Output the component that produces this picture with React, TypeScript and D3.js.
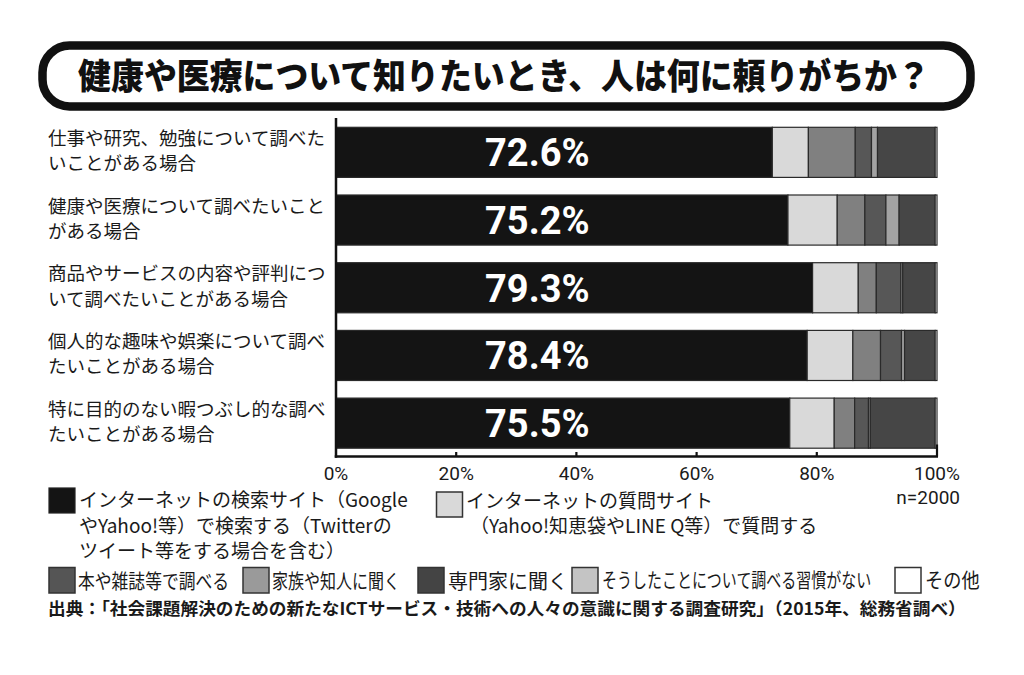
import React from "react";
import * as d3 from "d3";

const categoryLines: string[][] = [
  ["仕事や研究、勉強について調べた", "いことがある場合"],
  ["健康や医療について調べたいこと", "がある場合"],
  ["商品やサービスの内容や評判につ", "いて調べたいことがある場合"],
  ["個人的な趣味や娯楽について調べ", "たいことがある場合"],
  ["特に目的のない暇つぶし的な調べ", "たいことがある場合"],
];
const categories = categoryLines.map((l) => l.join(""));

const seriesKeys = ["search", "qaSite", "books", "family", "expert", "noHabit", "other"];
const searchValues = [72.6, 75.2, 79.3, 78.4, 75.5];
const qaSiteValues = [6.0, 8.2, 7.6, 7.6, 7.4];
const bookValues = [7.8, 4.6, 3.0, 4.6, 3.4];
const familyValues = [2.7, 3.5, 4.1, 3.5, 2.3];
const expertValues = [1.0, 2.2, 0.3, 0.5, 0.3];
const noHabitValues = [9.6, 6.0, 5.4, 5.1, 10.8];
const otherValues = [0.3, 0.3, 0.3, 0.3, 0.3];
const valueLabels = ["72.6%", "75.2%", "79.3%", "78.4%", "75.5%"];

const barColors = ["#141414", "#d9d9d9", "#808080", "#575757", "#a3a3a3", "#464646", "#ffffff"];

const xTicks = [0, 20, 40, 60, 80, 100];
const xTickLabels = ["0%", "20%", "40%", "60%", "80%", "100%"];

const title = "健康や医療について知りたいとき、人は何に頼りがちか？";
const sampleNote = "n=2000";
const sourceNote =
  "出典：「社会課題解決のための新たなICTサービス・技術への人々の意識に関する調査研究」（2015年、総務省調べ）";

const legendRow1 = [
  {
    color: "#141414",
    lines: ["インターネットの検索サイト（Google", "やYahoo!等）で検索する（Twitterの", "ツイート等をする場合を含む）"],
  },
  {
    color: "#d9d9d9",
    lines: ["インターネットの質問サイト", "（Yahoo!知恵袋やLINE Q等）で質問する"],
  },
];
const legendRow2Labels = ["本や雑誌等で調べる", "家族や知人に聞く", "専門家に聞く", "そうしたことについて調べる習慣がない", "その他"];
const legendRow2Colors = ["#555555", "#9a9a9a", "#444444", "#c4c4c4", "#ffffff"];

const FONT = "'Noto Sans CJK JP', 'Noto Sans', sans-serif";

export default function App() {
  const W = 1024;
  const H = 675;
  const x = d3.scaleLinear().domain([0, 100]).range([336, 937]);
  const y = d3
    .scaleBand<string>()
    .domain(categories)
    .range([118.5, 457])
    .paddingInner(0.26)
    .paddingOuter(0.13);

  const table = categories.map((c, i) => ({
    category: c,
    search: searchValues[i],
    qaSite: qaSiteValues[i],
    books: bookValues[i],
    family: familyValues[i],
    expert: expertValues[i],
    noHabit: noHabitValues[i],
    other: otherValues[i],
  }));
  const stacked = d3.stack<any>().keys(seriesKeys)(table);
  const axisY = 456.5;

  // legend row 2 positions (swatch x, text x, horizontal squeeze)
  const row2 = [
    { sx: 49, tx: 78, sc: 0.84 },
    { sx: 243, tx: 272, sc: 0.8 },
    { sx: 418, tx: 448, sc: 1.0 },
    { sx: 572, tx: 602, sc: 0.75 },
    { sx: 895, tx: 925, sc: 0.91 },
  ];

  return (
    <svg
      width={W}
      height={H}
      viewBox={`0 0 ${W} ${H}`}
      style={{ position: "absolute", left: 0, top: 0, background: "#fff" }}
      fontFamily={FONT}
    >
      <rect x={0} y={0} width={W} height={H} fill="#fff" />
      {/* Title box */}
      <rect x={42.5} y={45.5} width={928} height={61} rx={27} ry={27} fill="#fff" stroke="#111" strokeWidth={8.5} />
      <text
        transform="translate(504,74.5) scale(0.94,1)"
        textAnchor="middle"
        dominantBaseline="central"
        fontSize={35}
        fontWeight={900}
        fill="#111"
      >
        {title}
      </text>

      {/* Bars */}
      {stacked.map((layer, si) => (
        <g key={layer.key}>
          {layer.map((d: any, i: number) => (
            <rect
              key={i}
              x={x(d[0])}
              y={y(categories[i])}
              width={Math.max(0, x(d[1]) - x(d[0]))}
              height={y.bandwidth()}
              fill={barColors[si]}
              stroke="#2a2a2a"
              strokeWidth={1.2}
            />
          ))}
        </g>
      ))}

      {/* Value labels */}
      {categories.map((c, i) => (
        <text
          key={c}
          x={x(33.5)}
          y={(y(c) as number) + y.bandwidth() / 2 + 1}
          textAnchor="middle"
          dominantBaseline="central"
          fontFamily="Roboto, 'Noto Sans', sans-serif"
          fontWeight={700}
          fontSize={38}
          fill="#fff"
        >
          {valueLabels[i]}
        </text>
      ))}

      {/* Category labels */}
      {categoryLines.map((lines, i) => {
        const cy = (y(categories[i]) as number) + y.bandwidth() / 2;
        return (
          <g key={i}>
            {lines.map((ln, j) => (
              <text
                key={j}
                x={48}
                y={cy - 15.5 + j * 25.5}
                dominantBaseline="central"
                fontSize={18.5}
                fill="#1a1a1a"
              >
                {ln}
              </text>
            ))}
          </g>
        );
      })}

      {/* Axes */}
      <line x1={x(0)} x2={x(0)} y1={118} y2={axisY + 1.25} stroke="#111" strokeWidth={2.5} />
      <line x1={x(0) - 1.25} x2={x(100) + 1} y1={axisY} y2={axisY} stroke="#111" strokeWidth={2.5} />
      {xTicks.map((t, i) => (
        <g key={t}>
          {t > 0 && (
            <line
              x1={x(t)}
              x2={x(t)}
              y1={axisY}
              y2={t === 100 ? axisY - 12 : axisY - 4.5}
              stroke="#111"
              strokeWidth={2.2}
            />
          )}
          <text
            x={x(t)}
            y={473.5}
            textAnchor="middle"
            dominantBaseline="central"
            fontFamily="Roboto, 'Noto Sans', sans-serif"
            fontSize={19}
            fill="#1a1a1a"
          >
            {xTickLabels[i]}
          </text>
        </g>
      ))}
      <text
        x={960}
        y={497.5}
        textAnchor="end"
        dominantBaseline="central"
        fontFamily="Roboto, 'Noto Sans', sans-serif"
        fontSize={19}
        fill="#1a1a1a"
      >
        {sampleNote}
      </text>

      {/* Legend row 1 */}
      <rect x={49} y={488} width={26} height={25} fill={legendRow1[0].color} stroke="#222" strokeWidth={1.2} />
      {legendRow1[0].lines.map((ln, j) => (
        <text key={j} x={79} y={498.5 + j * 25.5} dominantBaseline="central" fontSize={19} fill="#1a1a1a">
          {ln}
        </text>
      ))}
      <rect x={436.5} y={492} width={26} height={25} fill={legendRow1[1].color} stroke="#333" strokeWidth={1.5} />
      {legendRow1[1].lines.map((ln, j) => (
        <text
          key={j}
          x={j === 0 ? 466 : 470}
          y={499.5 + j * 24.5}
          dominantBaseline="central"
          fontSize={19}
          fill="#1a1a1a"
        >
          {ln}
        </text>
      ))}

      {/* Legend row 2 */}
      {legendRow2Labels.map((lab, i) => (
        <g key={lab}>
          <rect
            x={row2[i].sx}
            y={567.5}
            width={26}
            height={25.5}
            fill={legendRow2Colors[i]}
            stroke="#333"
            strokeWidth={1.5}
          />
          <text
            transform={`translate(${row2[i].tx},580) scale(${row2[i].sc},1)`}
            dominantBaseline="central"
            fontSize={20}
            fill="#1a1a1a"
          >
            {lab}
          </text>
        </g>
      ))}

      {/* Source */}
      <text
        transform="translate(48,608) scale(1.04,1)"
        dominantBaseline="central"
        fontSize={17}
        fontWeight={600}
        fill="#1a1a1a"
      >
        {sourceNote}
      </text>
    </svg>
  );
}
